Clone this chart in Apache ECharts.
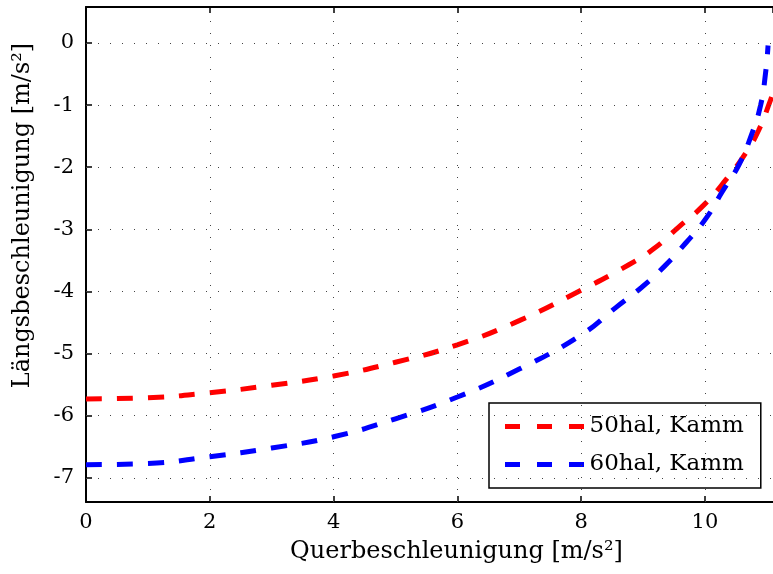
<!DOCTYPE html>
<html><head><meta charset="utf-8">
<script src="https://cdn.jsdelivr.net/npm/echarts@6/dist/echarts.min.js"></script>
<style>html,body{margin:0;padding:0;background:#fff}#c{width:773px;height:574px}</style>
</head><body><div id="c"></div>
<script>
const seriesNames = ['50hal, Kamm', '60hal, Kamm'];
const xTicks = [0, 2, 4, 6, 8, 10];
const yTicks = [-7, -6, -5, -4, -3, -2, -1, 0];
const redX = [0, 1, 2, 3, 4, 5, 6, 7, 8, 8.77, 9.15, 9.58, 9.98, 10.34, 10.66, 10.87, 11.06, 11.1];
const redY = [-5.73, -5.71, -5.63, -5.51, -5.36, -5.14, -4.86, -4.47, -3.98, -3.57, -3.33, -2.96, -2.61, -2.2, -1.77, -1.4, -0.92, -0.8];
const blueX = [0, 1, 2, 3, 4, 5, 6, 7, 8, 8.56, 8.97, 9.34, 9.69, 10.02, 10.27, 10.55, 10.74, 10.9, 10.98, 11.02];
const blueY = [-6.79, -6.77, -6.66, -6.52, -6.34, -6.05, -5.7, -5.25, -4.7, -4.26, -3.94, -3.6, -3.22, -2.82, -2.41, -1.96, -1.51, -1.0, -0.48, -0.04];
const FONT = 'DejaVu Serif';
const DASH_ICON = 'path://M0,0h15v5h-15z M32,0h15v5h-15z M64,0h15v5h-15z';
const pair = (xs, ys) => xs.map((x, i) => [x, ys[i]]);
const gridLines = yTicks.map(v => ({yAxis: v})).concat(xTicks.filter(v => v > 0).map(v => ({xAxis: v})));
const chart = echarts.init(document.getElementById('c'));
chart.setOption({
  animation: false,
  textStyle: {fontFamily: FONT},
  grid: {left: 86, top: 7, width: 688, height: 495, containLabel: false},
  xAxis: [{
    type: 'value', min: 0, max: 11.1, interval: 2,
    name: 'Querbeschleunigung [m/s²]', nameLocation: 'middle', nameGap: 38,
    nameTextStyle: {fontFamily: FONT, fontSize: 24, color: '#000', padding: [0, 0, 0, 54]},
    axisLine: {show: true, onZero: false, lineStyle: {color: '#000', width: 2}},
    axisTick: {show: true, inside: true, length: 6, lineStyle: {color: '#000', width: 1.5}},
    axisLabel: {fontFamily: FONT, fontSize: 21, color: '#000', margin: 10, showMaxLabel: false},
    splitLine: {show: false}
  }, {
    type: 'value', min: 0, max: 11.1, interval: 2, position: 'top',
    axisLine: {show: true, onZero: false, lineStyle: {color: '#000', width: 2}},
    axisTick: {show: true, inside: true, length: 6, lineStyle: {color: '#000', width: 1.5}},
    axisLabel: {show: false}, splitLine: {show: false}
  }],
  yAxis: [{
    type: 'value', min: -7.39, max: 0.58,
    name: 'Längsbeschleunigung [m/s²]', nameLocation: 'middle', nameGap: 51,
    nameTextStyle: {fontFamily: FONT, fontSize: 24, color: '#000', padding: [0, 0, 0, 78]},
    axisLine: {show: true, onZero: false, lineStyle: {color: '#000', width: 2}},
    axisTick: {show: true, inside: true, length: 6, customValues: yTicks, lineStyle: {color: '#000', width: 1.5}},
    axisLabel: {fontFamily: FONT, fontSize: 21, color: '#000', margin: 12, customValues: yTicks},
    splitLine: {show: false}
  }],
  legend: {
    orient: 'vertical', left: 489, top: 403,
    data: seriesNames.map(n => ({name: n, icon: DASH_ICON})),
    itemWidth: 80, itemHeight: 5, itemGap: 15,
    padding: [12, 17, 12, 16],
    borderColor: '#000', borderWidth: 1.5, backgroundColor: '#fff',
    textStyle: {fontFamily: FONT, fontSize: 23, color: '#000'}
  },
  series: [{
    type: 'line', name: 'grid', data: [], silent: true, z: 1,
    markLine: {
      silent: true, symbol: 'none', label: {show: false}, animation: false,
      lineStyle: {color: '#444', width: 1, type: [1, 11]},
      emphasis: {disabled: true},
      data: gridLines
    }
  }, {
    type: 'line', name: seriesNames[0], data: pair(redX, redY), smooth: true,
    symbol: 'none', showSymbol: false, z: 3, color: '#ff0000',
    lineStyle: {color: '#ff0000', width: 5, type: [16, 15], cap: 'butt'}
  }, {
    type: 'line', name: seriesNames[1], data: pair(blueX, blueY), smooth: true,
    symbol: 'none', showSymbol: false, z: 3, color: '#0000ff',
    lineStyle: {color: '#0000ff', width: 5, type: [16, 15], cap: 'butt'}
  }]
});
</script></body></html>
